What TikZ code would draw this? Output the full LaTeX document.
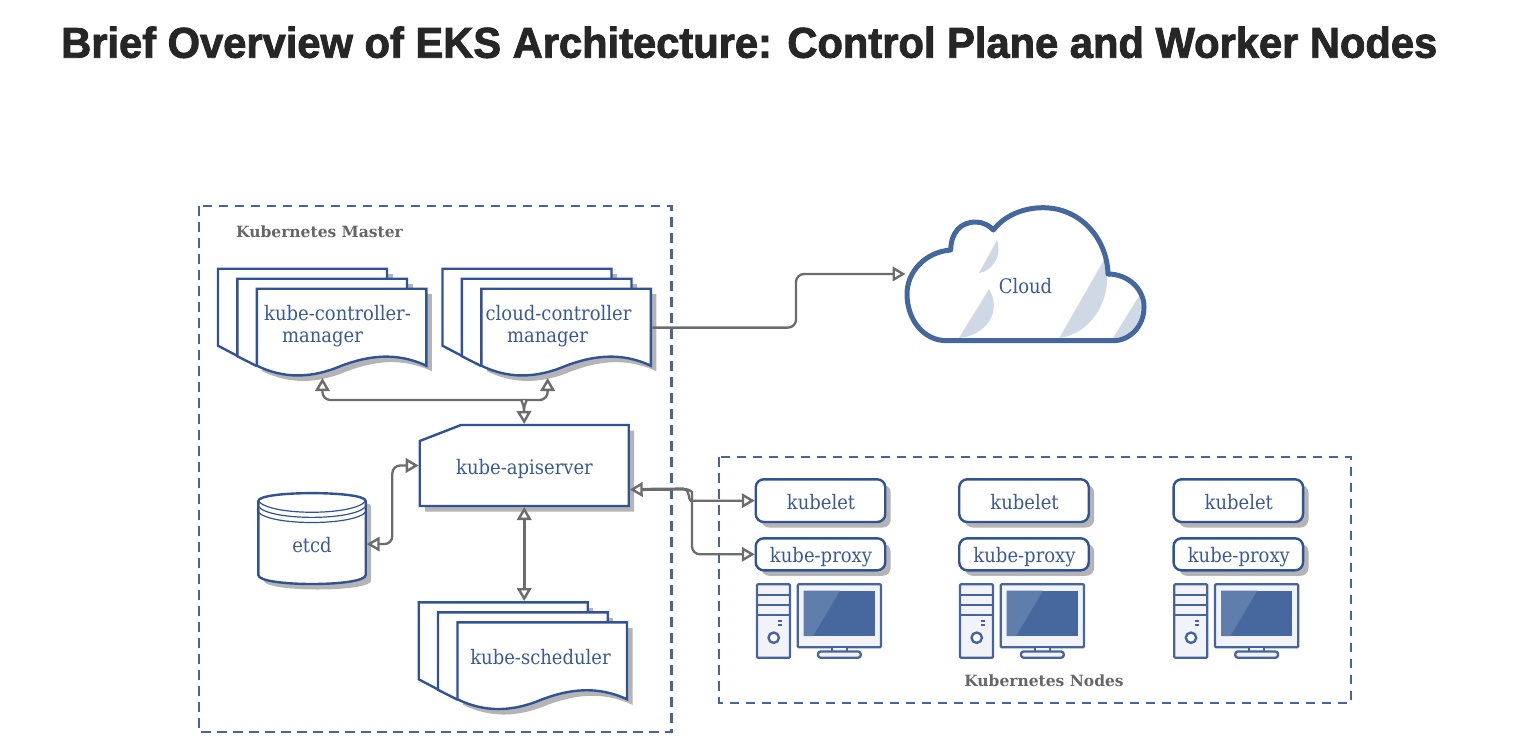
\documentclass[tikz,border=0pt]{standalone}
\usepackage{fontspec}
\usetikzlibrary{arrows.meta,calc}
\setmainfont{Liberation Sans}
\newfontfamily\titlefont{Liberation Sans}[BoldFeatures={FakeStretch=.969,FakeBold=2}]
\newfontfamily\slab[FakeStretch=0.9]{DejaVu Serif}
\newfontfamily\slabbold{DejaVu Serif}
\definecolor{inkblue}{HTML}{2F5396}
\definecolor{textblue}{HTML}{3A5A96}
\definecolor{dashblue}{HTML}{46659F}
\definecolor{cloudblue}{HTML}{44679F}
\definecolor{cloudlight}{HTML}{CFD9E6}
\definecolor{shade}{HTML}{B4B4B4}
\definecolor{conngray}{HTML}{6C6C6C}
\definecolor{labelgray}{HTML}{666666}
\definecolor{towerfill}{HTML}{F1F3F8}
\definecolor{screenblue}{HTML}{46689E}
\definecolor{screenlight}{HTML}{5F7EAB}
\definecolor{titleink}{HTML}{262626}
\tikzset{
  x=1pt,y=-1pt,
  region/.style={draw=dashblue,line width=2.2pt,dash pattern=on 9.5pt off 6.5pt},
  outline/.style={draw=inkblue,line width=2.4pt,fill=white,line join=miter},
  shadowfill/.style={fill=shade,draw=none},
  hitbox/.style={draw=none,inner sep=0pt,outer sep=1pt},
  lbl/.style={font=\slab\fontsize{20}{22}\selectfont,text=textblue,inner sep=0pt,align=center},
  caption/.style={font=\slabbold\bfseries\fontsize{15.5}{17}\selectfont,text=labelgray,inner sep=0pt},
  conn/.style={draw=conngray,line width=2.3pt,rounded corners=8pt},
  thickconn/.style={conn,line width=3.2pt},
  opentip/.tip={Triangle[open,length=13pt,width=14.5pt,line width=2.4pt]},
  comp/.style={draw=dashblue,line width=2.3pt,line join=round},
  pill/.style={draw=inkblue,line width=2.4pt,fill=white,rounded corners=8pt,minimum width=129.5pt,inner sep=0pt,outer sep=1pt},
}
\newcommand{\pagepath}[4]{(#1,#2) -- (#3,#2) -- (#3,#4)
  .. controls ({#3-30},{#4-14}) and ({#3-58},{#4-10}) .. ({(#1+#3)/2},#4)
  .. controls ({#1+54},{#4+13}) and ({#1+27},{#4+13}) .. (#1,#4) -- cycle}
\newcommand{\onepage}[4]{%
  \fill[shadowfill,shift={(5.5pt,-5.5pt)}] \pagepath{#1}{#2}{#3}{#4};
  \path[outline] \pagepath{#1}{#2}{#3}{#4};}
\newcommand{\stack}[2]{% #1 x of back page, #2 y of back page
  \fill[shadowfill] ({#1+169+5.5},{#2+5.5}) rectangle ({#1+169},{#2+30});
  \draw[outline] (#1,#2) -- ({#1+169},#2) -- ({#1+169},{#2+40}) -- ({#1+30},{#2+80}) -- ({#1+19},{#2+87}) -- (#1,{#2+77}) -- cycle;
  \fill[shadowfill] ({#1+189+5.5},{#2+15.5}) rectangle ({#1+189},{#2+40});
  \draw[outline] ({#1+19.3},{#2+10}) -- ({#1+189},{#2+10}) -- ({#1+189},{#2+50}) -- ({#1+50},{#2+90}) -- ({#1+38},{#2+97}) -- ({#1+19.3},{#2+87.5}) -- cycle;
  \onepage{#1+38.8}{#2+20}{#1+208.3}{#2+97}}
\newcommand{\computer}[1]{% #1 x of tower left
  \begin{scope}[shift={(#1pt,0pt)}]
  \draw[comp,fill=towerfill,rounded corners=1pt] (0,584.3) rectangle (33,657.7);
  \draw[comp] (0,595) -- (33,595) (0,605) -- (33,605) (0,615) -- (33,615);
  \draw[comp,line width=1.2pt] (21,621) -- (25,621) (21,625) -- (25,625);
  \draw[comp,fill=white,line width=2.4pt] (16.7,637.7) circle[radius=5.2pt];
  \draw[comp,fill=towerfill,rounded corners=1pt] (40.7,584.3) rectangle (124,647.3);
  \fill[screenblue] (46.7,590.7) rectangle (118,636);
  \fill[screenlight] (46.7,590.7) -- (83,590.7) -- (56,636) -- (46.7,636) -- cycle;
  \draw[comp,fill=towerfill] (74.7,647.3) rectangle (89.7,652);
  \draw[comp,fill=towerfill,rounded corners=2.5pt] (61,651.5) rectangle (103.7,657.7);
  \end{scope}}
\begin{document}
\begin{tikzpicture}
\useasboundingbox (0,0) rectangle (1516,750);
\fill[white] (0,0) rectangle (1516,750);

\node[anchor=base west,inner sep=0pt,font=\titlefont\bfseries\fontsize{43}{50}\selectfont,text=titleink] (title) at (61,57.7)
  {Brief Overview of EKS Architecture: Control Plane and Worker Nodes};

% regions
\draw[region] (199,206) rectangle (671.5,732);
\draw[region] (719.3,457) rectangle (1351,702.7);
\node[caption,anchor=west] (mastercap) at (236,232) {Kubernetes Master};
\node[caption] (nodescap) at (1044,681) {Kubernetes Nodes};

% document stacks
\stack{218}{268.7}
\stack{442.5}{268.7}
\stack{418.7}{602.3}
\node[hitbox,minimum width=169.5pt,minimum height=88pt] (kcm) at (341.3,333) {};
\node[hitbox,minimum width=169.5pt,minimum height=88pt] (ccm) at (566.5,333) {};
\node[hitbox,minimum width=209pt,minimum height=106pt] (sched) at (523,655) {};
\node[lbl] (kcmtext) at (337.5,326) {kube-controller-\\\hspace*{-30pt}manager};
\node[lbl] (ccmtext) at (558.5,326) {cloud-controller\\\hspace*{-22pt}manager};
\node[lbl] (schedtext) at (540.5,657) {kube-scheduler};

% api server
\fill[shadowfill,shift={(5.5pt,-5.5pt)}] (419.7,441) -- (461,425) -- (628.7,425) -- (628.7,506) -- (419.7,506) -- cycle;
\path[outline] (419.7,441) -- (461,425) -- (628.7,425) -- (628.7,506) -- (419.7,506) -- cycle;
\node[hitbox,minimum width=209pt,minimum height=81pt] (api) at (524.2,465.5) {};
\node[lbl] (apitext) at (524.5,468.5) {kube-apiserver};

% etcd
\fill[shadowfill,shift={(5.5pt,-5.5pt)}] (258.3,501) .. controls (258.3,490.5) and (365.7,490.5) .. (365.7,501) -- (365.7,575) .. controls (365.7,587) and (258.3,587) .. (258.3,575) -- cycle;
\path[outline] (258.3,501) .. controls (258.3,490.5) and (365.7,490.5) .. (365.7,501) -- (365.7,575) .. controls (365.7,587) and (258.3,587) .. (258.3,575) -- cycle;
\draw[draw=inkblue,line width=1.2pt]
  (258.3,501) .. controls (270,516) and (354,516) .. (365.7,501)
  (258.3,506.5) .. controls (270,521) and (354,521) .. (365.7,506.5)
  (258.3,512) .. controls (270,526) and (354,526) .. (365.7,512);
\node[hitbox,minimum width=107.4pt,minimum height=91pt] (etcd) at (312,538.5) {};
\node[lbl] (etcdtext) at (312,545) {etcd};

% cloud
\path[fill=white] (947,340.7) .. controls (922,340.7) and (907,318) .. (907,294)
  .. controls (907,272) and (925,252) .. (950.7,250)
  .. controls (951,233) and (960,222) .. (976,222)
  .. controls (983,222) and (990,226) .. (993.3,230)
  .. controls (1005,215) and (1024,207.7) .. (1043,207.7)
  .. controls (1080,207.7) and (1107,238) .. (1108,274)
  .. controls (1128,274) and (1144,289) .. (1144,307)
  .. controls (1144,326) and (1130,340.7) .. (1113,340.7) -- cycle;
\fill[cloudlight] (997,240) -- (979,273) .. controls (990,272) and (1003,258) .. (997,240) -- cycle;
\fill[cloudlight] (989,289) -- (959,338) .. controls (985,336) and (1003,312) .. (989,289) -- cycle;
\fill[cloudlight] (1105,258) -- (1059.3,338) .. controls (1090,334) and (1115,300) .. (1105,258) -- cycle;
\fill[cloudlight] (1139,296) -- (1113,338) .. controls (1132,338) and (1146,318) .. (1139,296) -- cycle;
\draw[draw=cloudblue,line width=5pt,line join=round] (947,340.7) .. controls (922,340.7) and (907,318) .. (907,294)
  .. controls (907,272) and (925,252) .. (950.7,250)
  .. controls (951,233) and (960,222) .. (976,222)
  .. controls (983,222) and (990,226) .. (993.3,230)
  .. controls (1005,215) and (1024,207.7) .. (1043,207.7)
  .. controls (1080,207.7) and (1107,238) .. (1108,274)
  .. controls (1128,274) and (1144,289) .. (1144,307)
  .. controls (1144,326) and (1130,340.7) .. (1113,340.7) -- cycle;
\node[hitbox,minimum width=239pt,minimum height=137pt] (cloud) at (1026,274) {};
\node[lbl] (cloudtext) at (1025.5,286) {Cloud};

% node columns
\foreach \dx/\id in {0/a,203.5/b,417.8/c}{
  \fill[shadowfill,rounded corners=8pt] ({755.7+\dx+5.5},{479.3+5.5}) rectangle ({885.2+\dx+5.5},{522+5.5});
  \fill[shadowfill,rounded corners=8pt] ({755.7+\dx+5.5},{538.3+5.5}) rectangle ({885.2+\dx+5.5},{570.3+5.5});
  \node[pill,minimum height=42.7pt] (kubelet\id) at ({820.5+\dx},500.65) {};
  \node[pill,minimum height=32pt] (proxy\id) at ({820.5+\dx},554.3) {};
  \node[lbl] (kubelettext\id) at ({821+\dx},502) {kubelet};
  \node[lbl] (proxytext\id) at ({821+\dx},557.5) {kube-proxy};
}
\computer{757}
\computer{960}
\computer{1174.3}

% junction points
\coordinate (jn) at (524,411);
\coordinate (jl) at (514,400);
\coordinate (jr) at (534,400);
\coordinate (kcmport) at ($(kcm.south west)!.39!(kcm.south east)$);
\coordinate (ccmport) at ($(ccm.south west)!.39!(ccm.south east)$);
\coordinate (apiport) at ($(api.south east)!.21!(api.north east)$);
\coordinate (etcdport) at ($(etcd.south east)!.44!(etcd.north east)$);
\coordinate (etcdmid) at (392.3,505);
\coordinate (bus) at (684,489);
\coordinate (ccmout) at ($(ccm.south east)!.56!(ccm.north east)$);
\coordinate (cloudmid) at (796,300);
\coordinate (cloudport) at ($(cloud.south west)!.5!(cloud.north west)$);

% connectors
\draw[conn,{opentip}-] (kcmport) |- (jl) .. controls (520,400) and (524,403) .. (jn);
\draw[conn,{opentip}-] (ccmport) |- (jr) .. controls (528,400) and (524,403) .. (jn);
\draw[conn,-{opentip}] (jn) -- (api.north);
\draw[conn,{opentip}-{opentip}] (etcdport) -| (etcdmid) |- (api.west);
\draw[thickconn,{opentip}-{opentip}] (api.south) -- (api.south |- sched.north);
\draw[thickconn,{opentip}-] (apiport) -- (bus);
\draw[conn,-{opentip}] (bus) .. controls (690,489) and (688,500.65) .. (699,500.65) -- (kubeleta.west);
\draw[conn,-{opentip}] (bus) .. controls (689,489) and (692,492) .. (692,500) |- (proxya.west);
\draw[conn,-{opentip}] (ccmout) -| (cloudmid) |- (cloudport);
\end{tikzpicture}
\end{document}
